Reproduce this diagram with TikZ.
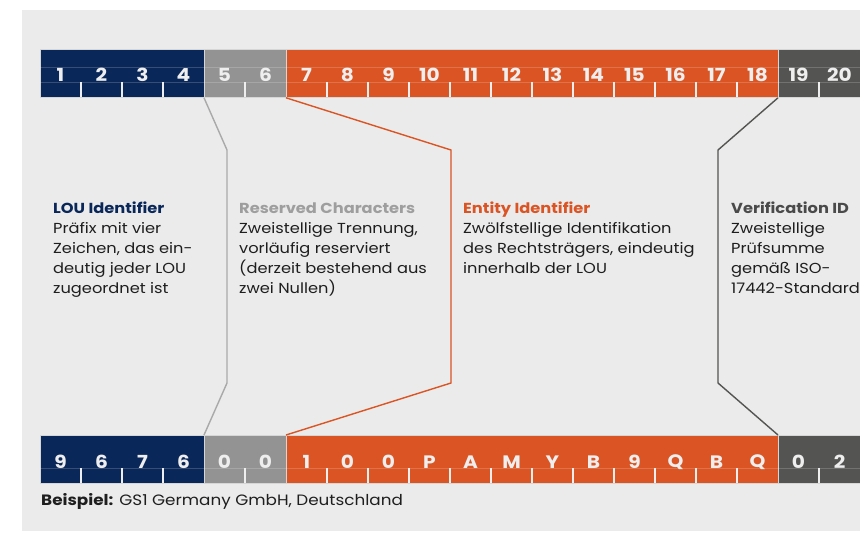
\documentclass[tikz,border=0pt]{standalone}
\usepackage{fontspec}
\setmainfont{Poppins}[FakeStretch=1.12]
\definecolor{bgc}{HTML}{EBEBEB}
\definecolor{cblue}{HTML}{0A2759}
\definecolor{cgray}{HTML}{939393}
\definecolor{corange}{HTML}{DA5424}
\definecolor{cdark}{HTML}{545452}
\definecolor{cdigit}{HTML}{EEEEEE}
\definecolor{cborder}{HTML}{D6D6D6}
\definecolor{cbody}{HTML}{1E1E1E}
\definecolor{hgray}{HTML}{9E9E9E}
\definecolor{hdark}{HTML}{4A4A4A}
\newcommand\txtstack[1]{\vtop{\baselineskip=20pt\lineskiplimit=-10pt #1}}
\begin{document}
\begin{tikzpicture}[x=1pt,y=-1pt,
  grp/.style={draw=cborder,line width=0.8pt,minimum height=48pt,inner sep=0pt,anchor=north west},
  tick/.style={draw=cdigit,line width=1.2pt},
  faint/.style={draw=white,opacity=0.18,line width=0.6pt},
  digit/.style={text=cdigit,font=\fontsize{18}{18}\selectfont\bfseries,inner sep=0pt,anchor=center},
  head/.style={font=\fontsize{14.5}{20}\selectfont\bfseries,inner sep=0pt,anchor=base west},
  body/.style={font=\fontsize{14.5}{20}\selectfont,text=cbody,inner sep=0pt,anchor=base west},
  conn/.style={line width=1.4pt}]
\useasboundingbox (0,0) rectangle (860,533);
\fill[white] (0,0) rectangle (860,533);
\fill[bgc] (22,10) rectangle (860,531);

% groups
\foreach \r/\yy in {t/49,b/435}{
  \node[grp,fill=cblue,minimum width=164pt] (\r blue) at (40,\yy) {};
  \node[grp,fill=cgray,minimum width=82pt] (\r gray) at (204,\yy) {};
  \node[grp,fill=corange,minimum width=492pt] (\r orange) at (286,\yy) {};
  \node[grp,fill=cdark,minimum width=82pt] (\r dark) at (778,\yy) {};
  \draw[faint] (40,\yy+33) -- (860,\yy+33);
  \foreach \k in {1,2,3,5,7,8,9,10,11,12,13,14,15,16,17,19}{
    \draw[tick] (40+41*\k,\yy+33) -- (40+41*\k,\yy+48);
  }
}
\draw[faint] (40,67) -- (860,67);

% top digits
\foreach \k in {1,...,20}{
  \node[digit] (td\k) at (19.5+41*\k,75) {\k};
}
% bottom characters
\foreach \c [count=\k] in {9,6,7,6,0,0,1,0,0,P,A,M,Y,B,9,Q,B,Q,0,2}{
  \node[digit] (bd\k) at (19.5+41*\k,462) {\c};
}

% connector bends
\coordinate (g1) at (227,150); \coordinate (g2) at (227,383);
\coordinate (o1) at (451,150); \coordinate (o2) at (451,383);
\coordinate (d1) at (718,150); \coordinate (d2) at (718,383);

\draw[conn,draw=cgray!80!white] (tgray.south west) -- (g1) -- (g2) -- (bgray.north west);
\draw[conn,draw=corange] (torange.south west) -- (o1) -- (o2) -- (borange.north west);
\draw[conn,draw=cdark] (tdark.south west) -- (d1) -- (d2) -- (bdark.north west);

% texts
\node[head,text=cblue] (h1) at (53,213) {LOU Identifier};
\node[body] (b1) at (53,233) {\txtstack{\hbox{Präfix mit vier}\hbox{Zeichen, das ein-}\hbox{deutig jeder LOU}\hbox{zugeordnet ist}}};
\node[head,text=hgray] (h2) at (239,213) {Reserved Characters};
\node[body] (b2) at (239,233) {\txtstack{\hbox{Zweistellige Trennung,}\hbox{vorläufig reserviert}\hbox{(derzeit bestehend aus}\hbox{zwei Nullen)}}};
\node[head,text=corange] (h3) at (463,213) {Entity Identifier};
\node[body] (b3) at (463,233) {\txtstack{\hbox{Zwölfstellige Identifikation}\hbox{des Rechtsträgers, eindeutig}\hbox{innerhalb der LOU}}};
\node[head,text=hdark] (h4) at (731,213) {Verification ID};
\node[body] (b4) at (731,233) {\txtstack{\hbox{Zweistellige}\hbox{Prüfsumme}\hbox{gemäß ISO-}\hbox{17442-Standard}}};

\node[font=\fontsize{15}{18}\selectfont,text=cbody,inner sep=0pt,anchor=base west] (bsp) at (41,505) {\textbf{Beispiel:} GS1 Germany GmbH, Deutschland};
\end{tikzpicture}
\end{document}
